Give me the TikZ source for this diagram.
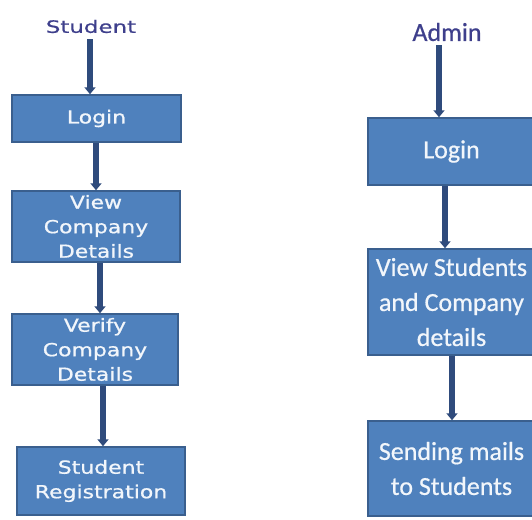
\documentclass[tikz,border=0pt]{standalone}
\usepackage{fontspec}
\newfontfamily\lfont[FakeStretch=1.22,FakeBold=0.8]{DejaVu Sans}
\newfontfamily\labfont[FakeStretch=1.35,FakeBold=0.6]{DejaVu Sans}
\newfontfamily\rfont[FakeBold=0.6]{Carlito}
\usetikzlibrary{arrows.meta}
\definecolor{boxfill}{HTML}{4F81BD}
\definecolor{boxline}{HTML}{3A5F8E}
\definecolor{arrowc}{HTML}{2F4B7C}
\definecolor{labelc}{HTML}{3E3F8C}
\definecolor{txt}{HTML}{F2F6FB}
\begin{document}
\begin{tikzpicture}[x=1pt,y=-1pt,
  box/.style={draw=boxline, line width=1.5pt, fill=boxfill, text=txt, align=center, inner sep=0pt},
  lbox/.style={box, font=\lfont\fontsize{18}{24.5}\selectfont},
  rbox/.style={box, font=\rfont\fontsize{26}{35}\selectfont},
  arr/.style={draw=arrowc, line width=5.5pt, -{Triangle[width=11pt,length=7pt]}}]
\useasboundingbox (0,0) rectangle (532,519);
\fill[white] (0,0) rectangle (532,519);
% left column
\node[text=labelc, font=\labfont\fontsize{17}{19}\selectfont, inner sep=0pt] (stu) at (91,26.5) {Student};
\node[lbox, minimum width=169pt, minimum height=47pt] (l1) at (96.5,118.5) {Login};
\node[lbox, minimum width=168pt, minimum height=71pt] (l2) at (96,226.5) {View\\Company\\Details};
\node[lbox, minimum width=166pt, minimum height=71pt] (l3) at (95,349.5) {Verify\\Company\\Details};
\node[lbox, minimum width=168pt, minimum height=68pt] (l4) at (101,481) {Student\\Registration};
\coordinate (ax1) at (90,0);
\coordinate (ax2) at (96,0);
\coordinate (ax3) at (100,0);
\coordinate (ax4) at (103,0);
\draw[arr] ([yshift=-6pt]stu.south -| ax1) -- (l1.north -| ax1);
\draw[arr] (l1.south -| ax2) -- (l2.north -| ax2);
\draw[arr] (l2.south -| ax3) -- (l3.north -| ax3);
\draw[arr] (l3.south -| ax4) -- (l4.north -| ax4);
% right column
\node[text=labelc, font=\rfont\fontsize{26}{30}\selectfont, inner sep=0pt] (adm) at (447,32) {Admin};
\node[rbox, minimum width=167pt, minimum height=67pt] (r1) at (451.5,151.5) {Login};
\node[rbox, minimum width=167pt, minimum height=106pt] (r2) at (451.5,302) {View Students\\and Company\\details};
\node[rbox, minimum width=167pt, minimum height=95pt] (r3) at (451.5,468.5) {Sending mails\\to Students};
\coordinate (bx1) at (439,0);
\coordinate (bx2) at (445,0);
\coordinate (bx3) at (452,0);
\draw[arr] ([yshift=-4pt]adm.south -| bx1) -- (r1.north -| bx1);
\draw[arr] (r1.south -| bx2) -- (r2.north -| bx2);
\draw[arr] (r2.south -| bx3) -- (r3.north -| bx3);
\end{tikzpicture}
\end{document}
